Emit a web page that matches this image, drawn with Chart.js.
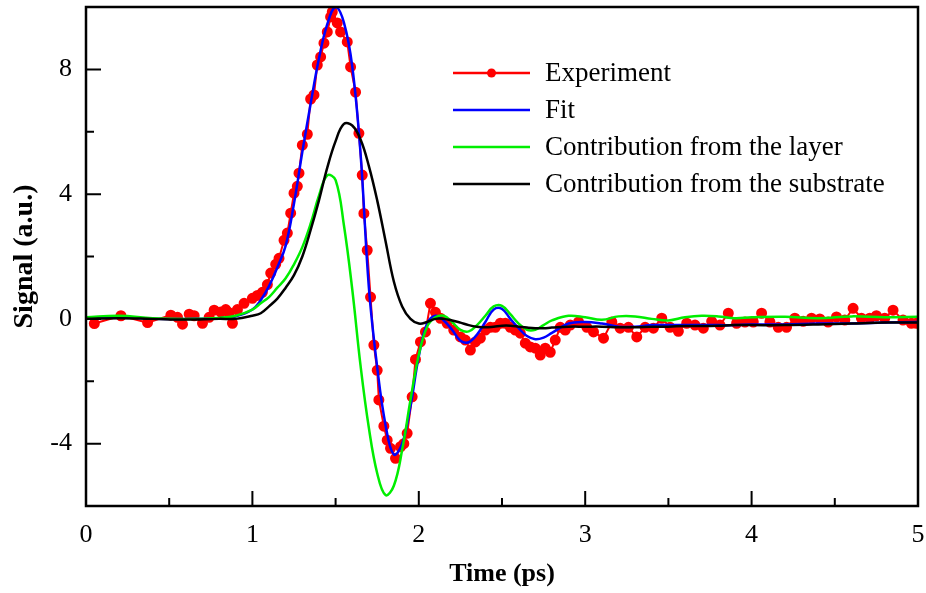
<!DOCTYPE html>
<html>
<head>
<meta charset="utf-8">
<script src="https://cdn.jsdelivr.net/npm/chart.js@4/dist/chart.umd.min.js"></script>
<style>
html,body{margin:0;padding:0;background:#fff;}
#wrap{width:926px;height:593px;position:relative;}
</style>
</head>
<body>
<div id="wrap"><canvas id="c" width="926" height="593"></canvas></div>
<script>
// ---- data ----
const expT = [0.05,0.21,0.37,0.51,0.55,0.58,0.62,0.65,0.70,0.74,0.77,0.81,0.84,0.86,0.88,0.91,0.95,1.00,1.03,1.06,1.09,1.11,1.14,1.16,1.19,1.21,1.23,1.25,1.27,1.28,1.30,1.33,1.35,1.37,1.39,1.41,1.43,1.45,1.47,1.48,1.51,1.53,1.57,1.59,1.62,1.64,1.66,1.67,1.69,1.71,1.73,1.75,1.76,1.79,1.81,1.83,1.86,1.89,1.91,1.93,1.96,1.98,2.01,2.04,2.07,2.10,2.13,2.17,2.21,2.25,2.28,2.31,2.34,2.37,2.40,2.43,2.46,2.49,2.52,2.55,2.58,2.61,2.64,2.67,2.70,2.73,2.76,2.79,2.82,2.85,2.88,2.91,2.96,3.01,3.05,3.11,3.16,3.21,3.26,3.31,3.36,3.41,3.46,3.51,3.56,3.61,3.66,3.71,3.76,3.81,3.86,3.91,3.96,4.01,4.06,4.11,4.16,4.21,4.26,4.31,4.36,4.41,4.46,4.51,4.56,4.61,4.66,4.71,4.75,4.80,4.85,4.91,4.96,4.99];
const expY = [-0.15,0.1,-0.12,0.12,0.05,-0.17,0.15,0.1,-0.14,0.05,0.28,0.22,0.3,0.2,-0.14,0.3,0.5,0.66,0.75,0.85,1.1,1.47,1.75,1.94,2.52,2.75,3.39,4.03,4.25,4.67,5.57,5.92,7.05,7.18,8.14,8.4,8.84,9.2,9.68,9.84,9.49,9.2,8.88,8.08,7.27,5.95,4.61,3.38,2.2,0.7,-0.84,-1.65,-2.6,-3.44,-3.89,-4.15,-4.47,-4.1,-4.0,-3.67,-2.5,-1.3,-0.74,-0.42,0.5,0.21,0.02,-0.14,-0.36,-0.58,-0.68,-1.0,-0.74,-0.62,-0.36,-0.27,-0.27,-0.14,-0.14,-0.27,-0.36,-0.46,-0.78,-0.9,-0.94,-1.16,-0.94,-1.07,-0.68,-0.27,-0.36,-0.2,-0.1,-0.27,-0.42,-0.62,-0.1,-0.3,-0.27,-0.58,-0.27,-0.3,0.02,-0.27,-0.4,-0.14,-0.2,-0.3,-0.08,-0.2,0.18,-0.14,-0.1,-0.1,0.18,-0.1,-0.27,-0.27,0.02,-0.08,0.02,0.0,-0.1,0.06,-0.04,0.34,0.02,0.02,0.1,0.02,0.28,-0.04,-0.14,-0.14];

const curveT = [0,0.2,0.4,0.6,0.8,0.9,1.0,1.05,1.1,1.15,1.2,1.25,1.3,1.35,1.4,1.45,1.5,1.55,1.6,1.65,1.7,1.75,1.8,1.85,1.9,1.95,2.0,2.05,2.1,2.15,2.2,2.25,2.3,2.35,2.4,2.45,2.5,2.55,2.6,2.65,2.7,2.75,2.8,2.9,3.0,3.1,3.2,3.3,3.4,3.5,3.6,3.7,3.8,3.9,4.0,4.2,4.4,4.6,4.8,5.0];
const fitY = [0.0,0.05,0.0,0.0,0.02,0.08,0.3,0.6,1.05,1.65,2.35,3.7,5.35,6.9,8.35,9.45,10.0,9.5,8.1,5.3,1.0,-1.55,-3.4,-4.35,-4.0,-2.8,-1.2,-0.15,0.1,-0.05,-0.35,-0.7,-0.75,-0.5,-0.1,0.3,0.32,0.0,-0.3,-0.55,-0.65,-0.6,-0.45,-0.15,-0.1,-0.15,-0.25,-0.25,-0.2,-0.2,-0.2,-0.2,-0.2,-0.2,-0.18,-0.18,-0.15,-0.15,-0.12,-0.1];
const layerY = [0.05,0.1,0.02,0.0,0.03,0.1,0.3,0.5,0.7,1.0,1.3,1.75,2.3,3.05,3.95,4.6,4.45,3.0,0.95,-1.5,-3.5,-4.95,-5.65,-5.35,-4.2,-2.6,-1.15,-0.25,0.05,0.1,-0.1,-0.35,-0.4,-0.2,0.1,0.4,0.42,0.15,-0.15,-0.35,-0.35,-0.2,-0.05,0.1,0.05,-0.03,0.08,0.08,0.0,-0.05,0.05,0.1,0.08,0.02,0.05,0.07,0.02,0.08,0.05,0.07];
const subY = [0.0,0.02,0.0,-0.02,0.0,0.0,0.1,0.18,0.4,0.65,1.0,1.4,2.0,2.85,3.8,4.85,5.7,6.25,6.2,5.75,4.9,3.8,2.5,1.2,0.4,0.0,-0.15,-0.1,0.0,0.0,-0.05,-0.12,-0.2,-0.25,-0.27,-0.25,-0.22,-0.22,-0.25,-0.28,-0.3,-0.3,-0.28,-0.25,-0.25,-0.25,-0.27,-0.27,-0.25,-0.25,-0.23,-0.23,-0.22,-0.2,-0.2,-0.2,-0.18,-0.15,-0.12,-0.12];

const xTicks = [0,1,2,3,4,5];
const xMinor = [0.5,1.5,2.5,3.5,4.5];
const yTicks = [-4,0,4,8];
const yMinor = [-6,-2,2,6];
const labels = ['Experiment','Fit','Contribution from the layer','Contribution from the substrate'];
const colors = ['#ff0000','#0000ff','#00ee00','#000000'];

const pts = (xs, ys) => xs.map((x,i)=>({x:x, y:ys[i]}));
const FONT = "'Liberation Serif','Times New Roman',serif";

const frameTicks = {
  id:'frameTicks',
  afterDatasetsDraw(chart){
    const ctx = chart.ctx, a = chart.chartArea;
    const xs = chart.scales.x, ys = chart.scales.y;
    ctx.save();
    ctx.strokeStyle = '#000';
    ctx.lineWidth = 2;
    ctx.beginPath();
    xTicks.forEach(v=>{const p=xs.getPixelForValue(v); ctx.moveTo(p,a.bottom); ctx.lineTo(p,a.bottom-15);});
    xMinor.forEach(v=>{const p=xs.getPixelForValue(v); ctx.moveTo(p,a.bottom); ctx.lineTo(p,a.bottom-8);});
    yTicks.forEach(v=>{const p=ys.getPixelForValue(v); ctx.moveTo(a.left,p); ctx.lineTo(a.left+15,p);});
    yMinor.forEach(v=>{const p=ys.getPixelForValue(v); ctx.moveTo(a.left,p); ctx.lineTo(a.left+8,p);});
    ctx.stroke();
    ctx.lineWidth = 2.5;
    ctx.strokeRect(a.left, a.top, a.right-a.left, a.bottom-a.top);
    // legend
    const lx0 = a.left + 367, lx1 = a.left + 444, tx = a.left + 459;
    ctx.font = '27px ' + FONT;
    ctx.textBaseline = 'middle';
    ctx.textAlign = 'left';
    chart.data.datasets.forEach((ds,i)=>{
      const yy = a.top + 66 + i*37;
      ctx.strokeStyle = ds.borderColor;
      ctx.lineWidth = 2.5;
      ctx.beginPath(); ctx.moveTo(lx0,yy); ctx.lineTo(lx1,yy); ctx.stroke();
      if (ds.pointRadius > 0){
        ctx.fillStyle = ds.pointBackgroundColor;
        ctx.beginPath(); ctx.arc((lx0+lx1)/2, yy, 4.5, 0, Math.PI*2); ctx.fill();
      }
      ctx.fillStyle = '#000';
      ctx.fillText(ds.label, tx, yy+1);
    });
    ctx.restore();
  }
};

const zeroPad = s => { s.paddingTop = 0; s.paddingBottom = 0; s.paddingLeft = 0; s.paddingRight = 0; };

new Chart(document.getElementById('c'), {
  type:'scatter',
  data:{
    datasets:[
      {label:labels[0], data:pts(expT,expY), showLine:true, borderColor:colors[0], backgroundColor:colors[0], pointBackgroundColor:colors[0], pointBorderColor:colors[0], pointRadius:4.5, borderWidth:2, tension:0, order:3},
      {label:labels[1], data:pts(curveT,fitY), showLine:true, borderColor:colors[1], backgroundColor:colors[1], pointRadius:0, borderWidth:2.5, tension:0.4, order:2},
      {label:labels[2], data:pts(curveT,layerY), showLine:true, borderColor:colors[2], backgroundColor:colors[2], pointRadius:0, borderWidth:2.5, tension:0.4, order:1},
      {label:labels[3], data:pts(curveT,subY), showLine:true, borderColor:colors[3], backgroundColor:colors[3], pointRadius:0, borderWidth:2.5, tension:0.4, order:0}
    ]
  },
  options:{
    responsive:false,
    animation:false,
    devicePixelRatio:1,
    layout:{padding:{top:7,right:8,left:0,bottom:0}},
    plugins:{legend:{display:false}, tooltip:{enabled:false}},
    scales:{
      x:{
        type:'linear', min:0, max:5,
        grid:{display:false, drawTicks:false},
        border:{display:false},
        afterBuildTicks:s=>{s.ticks = xTicks.map(v=>({value:v}));},
        afterFit:s=>{s.height = 87; zeroPad(s);},
        ticks:{color:'#000', font:{family:FONT, size:26}, padding:14, maxRotation:0, autoSkip:false},
        title:{display:true, text:'Time (ps)', color:'#000', font:{family:FONT, size:26, weight:'bold'}, padding:{top:0,bottom:3}}
      },
      y:{
        type:'linear', min:-6, max:10,
        grid:{display:false, drawTicks:false},
        border:{display:false},
        afterBuildTicks:s=>{s.ticks = yTicks.map(v=>({value:v}));},
        afterFit:s=>{s.width = 86; zeroPad(s);},
        ticks:{color:'#000', font:{family:FONT, size:26}, padding:14, autoSkip:false},
        title:{display:true, text:'Signal (a.u.)', color:'#000', font:{family:FONT, size:28, weight:'bold'}, padding:{top:8,bottom:0}}
      }
    }
  },
  plugins:[frameTicks]
});
</script>
</body>
</html>
